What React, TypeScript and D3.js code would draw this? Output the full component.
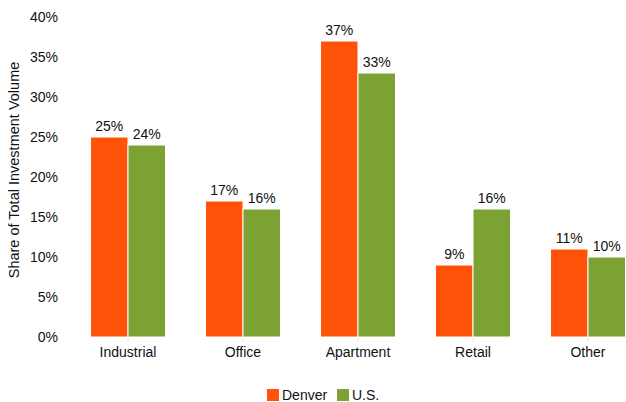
import React, { useEffect, useRef } from 'react';
import * as d3 from 'd3';

const categories = ['Industrial', 'Office', 'Apartment', 'Retail', 'Other'];
const seriesNames = ['Denver', 'U.S.'];
const denver = [25, 17, 37, 9, 11];
const us = [24, 16, 33, 16, 10];
const yTicks = [0, 5, 10, 15, 20, 25, 30, 35, 40];

const colors = ['#ff530a', '#7ba232'];

const App: React.FC = () => {
  const svgRef = useRef<SVGSVGElement>(null);
  const width = 626;
  const height = 402;

  useEffect(() => {
    if (!svgRef.current) return;
    const svg = d3.select(svgRef.current);
    svg.selectAll('*').remove();

    const font = 'Liberation Sans, Arial, Helvetica, sans-serif';

    // plot runs past the right edge of the window, like the reference
    const x = d3.scaleBand<string>()
      .domain(categories)
      .range([70.5, 645.5])
      .paddingInner(0.348)
      .paddingOuter(0.174);

    const inner = d3.scaleBand<string>()
      .domain(seriesNames)
      .range([0, x.bandwidth()]);

    const y = d3.scaleLinear().domain([0, 40]).range([337, 17]);

    // y tick labels
    svg.append('g')
      .selectAll('text')
      .data(yTicks)
      .join('text')
      .attr('x', 58)
      .attr('y', d => y(d))
      .attr('dy', '0.35em')
      .attr('text-anchor', 'end')
      .attr('font-family', font)
      .attr('font-size', 14)
      .attr('fill', '#111')
      .text(d => `${d}%`);

    // y title
    svg.append('text')
      .attr('transform', 'translate(18.5,170) rotate(-90)')
      .attr('text-anchor', 'middle')
      .attr('font-family', font)
      .attr('font-size', 14.5)
      .attr('fill', '#111')
      .text('Share of Total Investment Volume');

    // faint category ticks
    svg.append('g')
      .selectAll('line')
      .data(categories)
      .join('line')
      .attr('x1', d => x(d)! + x.bandwidth() / 2)
      .attr('x2', d => x(d)! + x.bandwidth() / 2)
      .attr('y1', y(0))
      .attr('y2', y(0) + 5)
      .attr('stroke', '#e4e4e4')
      .attr('stroke-width', 1);

    const rows = categories.map((c, i) => ({ c, vals: [denver[i], us[i]] }));

    const groups = svg.append('g')
      .selectAll('g')
      .data(rows)
      .join('g')
      .attr('transform', d => `translate(${x(d.c)},0)`);

    groups.selectAll('rect')
      .data(d => d.vals.map((v, j) => ({ v, s: seriesNames[j], j })))
      .join('rect')
      .attr('x', d => inner(d.s)!)
      .attr('y', d => y(d.v))
      .attr('width', inner.bandwidth())
      .attr('height', d => y(0) - y(d.v))
      .attr('fill', d => colors[d.j])
      .attr('stroke', '#ffffff')
      .attr('stroke-width', 1);

    groups.selectAll('text')
      .data(d => d.vals.map((v, j) => ({ v, s: seriesNames[j] })))
      .join('text')
      .attr('x', d => inner(d.s)! + inner.bandwidth() / 2)
      .attr('y', d => y(d.v) - 6)
      .attr('text-anchor', 'middle')
      .attr('font-family', font)
      .attr('font-size', 14)
      .attr('fill', '#111')
      .text(d => `${d.v}%`);

    // category labels
    svg.append('g')
      .selectAll('text')
      .data(categories)
      .join('text')
      .attr('x', d => x(d)! + x.bandwidth() / 2)
      .attr('y', 357)
      .attr('text-anchor', 'middle')
      .attr('font-family', font)
      .attr('font-size', 14)
      .attr('fill', '#111')
      .text(d => d);

    // legend
    const legendX = [267, 337];
    const legend = svg.append('g')
      .selectAll('g')
      .data(seriesNames)
      .join('g')
      .attr('transform', (_d, i) => `translate(${legendX[i]},389)`);
    legend.append('rect')
      .attr('width', 12)
      .attr('height', 12)
      .attr('fill', (_d, i) => colors[i]);
    legend.append('text')
      .attr('x', 15)
      .attr('y', 6)
      .attr('dy', '0.35em')
      .attr('font-family', font)
      .attr('font-size', 14)
      .attr('fill', '#111')
      .text(d => d);
  }, []);

  return (
    <svg
      ref={svgRef}
      width={width}
      height={height}
      style={{ position: 'absolute', left: 0, top: 0, background: '#fff' }}
    />
  );
};

export default App;
